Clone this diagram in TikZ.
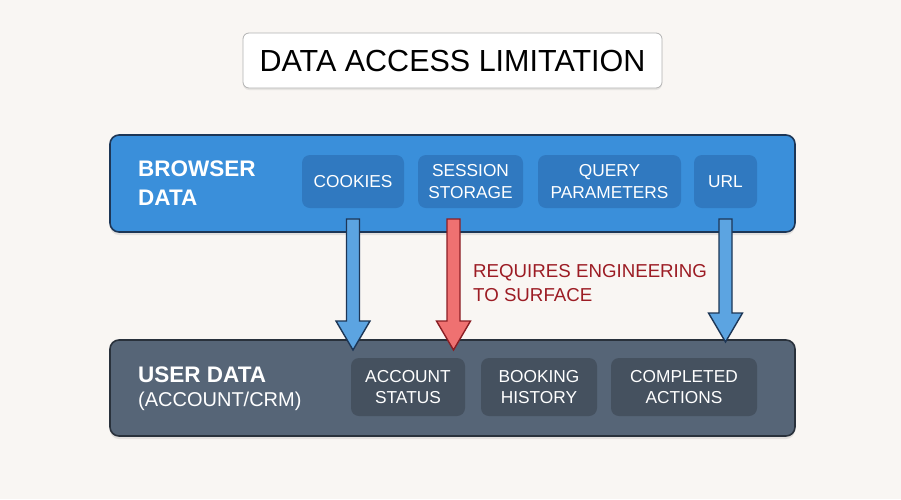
\documentclass[tikz,border=0pt]{standalone}
\usepackage{fontspec}
\setmainfont{Liberation Sans}
\usetikzlibrary{calc,shadows}
\definecolor{bg}{HTML}{F9F6F3}
\definecolor{bluebox}{HTML}{3A8FDA}
\definecolor{blueedge}{HTML}{1D3656}
\definecolor{blueinner}{HTML}{3079C0}
\definecolor{slatebox}{HTML}{566577}
\definecolor{slateedge}{HTML}{29313B}
\definecolor{slateinner}{HTML}{45515F}
\definecolor{arrowblue}{HTML}{5CA4E1}
\definecolor{arrowred}{HTML}{EF7171}
\definecolor{rededge}{HTML}{8A1E24}
\definecolor{redtext}{HTML}{9C1C24}
\tikzset{
  panel/.style={rounded corners=9pt, line width=1.6pt},
  chip/.style={rounded corners=8pt, inner sep=0pt, align=center, text=white,
     font=\fontsize{17.3}{21.5}\selectfont},
  heading/.style={anchor=west, align=left, text=white, inner sep=0pt},
}
\newcommand\fatarrowdown[4]{%
  \path[fill=#3, draw=#4, line width=1.4pt, line join=miter]
    let \p1=(#1), \p2=(#2) in
    (\x1-6.5pt,\y1) -- (\x1-6.5pt,\y2+29pt) -- (\x1-17pt,\y2+29pt) -- (\x2,\y2)
    -- (\x1+17pt,\y2+29pt) -- (\x1+6.5pt,\y2+29pt) -- (\x1+6.5pt,\y1) -- cycle;}
\begin{document}
\begin{tikzpicture}[x=1pt,y=-1pt]
\fill[bg] (0,0) rectangle (901,499);
\useasboundingbox (0,0) rectangle (901,499);
% title
\node[draw=black!30, fill=white, rounded corners=6pt, line width=0.8pt,
  minimum width=419pt, minimum height=55pt, inner sep=0pt,
  drop shadow={shadow xshift=0pt, shadow yshift=-2pt, opacity=0.15},
  font=\fontsize{30.5}{32}\selectfont] (title) at (452.5,60.5) {DATA ACCESS LIMITATION};
% browser panel
\node[panel, draw=blueedge, fill=bluebox, minimum width=685pt, minimum height=97pt,
  drop shadow={shadow xshift=0pt, shadow yshift=-3pt, opacity=0.18}] (browser) at (452.5,183.5) {};
\node[heading, font=\fontsize{22.5}{29}\selectfont\bfseries] (bhead) at (138,183) {BROWSER\\DATA};
\node[chip, fill=blueinner, minimum width=102pt, minimum height=53pt] (cookies) at (353,181.5) {COOKIES};
\node[chip, fill=blueinner, minimum width=105pt, minimum height=53pt] (session) at (470.5,181.5) {SESSION\\STORAGE};
\node[chip, fill=blueinner, minimum width=143pt, minimum height=53pt] (query) at (609.5,181.5) {QUERY\\PARAMETERS};
\node[chip, fill=blueinner, minimum width=63pt, minimum height=53pt] (url) at (725.5,181.5) {URL};
% user panel
\node[panel, draw=slateedge, fill=slatebox, minimum width=685pt, minimum height=96pt,
  drop shadow={shadow xshift=0pt, shadow yshift=-3pt, opacity=0.18}] (user) at (452.5,388) {};
\node[heading, font=\fontsize{22.5}{25}\selectfont\bfseries] (uhead) at (138,375) {USER DATA};
\node[heading, font=\fontsize{20}{23}\selectfont] (usub) at (138,401) {(ACCOUNT/CRM)};
\node[chip, fill=slateinner, minimum width=114pt, minimum height=58pt] (account) at (408,387) {ACCOUNT\\STATUS};
\node[chip, fill=slateinner, minimum width=116pt, minimum height=58pt] (booking) at (539,387) {BOOKING\\HISTORY};
\node[chip, fill=slateinner, minimum width=146pt, minimum height=58pt] (completed) at (684,387) {COMPLETED\\ACTIONS};
% arrows
\coordinate (a1s) at (cookies.center |- 0,219);
\coordinate (a1e) at (cookies.center |- 0,350);
\coordinate (a2s) at (453.5,219);
\coordinate (a2e) at (453.5,350);
\coordinate (a3s) at (url.center |- 0,219);
\coordinate (a3e) at (url.center |- 0,342);
\fatarrowdown{a1s}{a1e}{arrowblue}{blueedge}
\fatarrowdown{a2s}{a2e}{arrowred}{rededge}
\fatarrowdown{a3s}{a3e}{arrowblue}{blueedge}
\node[anchor=west, align=left, inner sep=0pt, text=redtext,
  font=\fontsize{18.7}{24}\selectfont] (label) at (473,283.5) {REQUIRES ENGINEERING\\TO SURFACE};
\end{tikzpicture}
\end{document}
